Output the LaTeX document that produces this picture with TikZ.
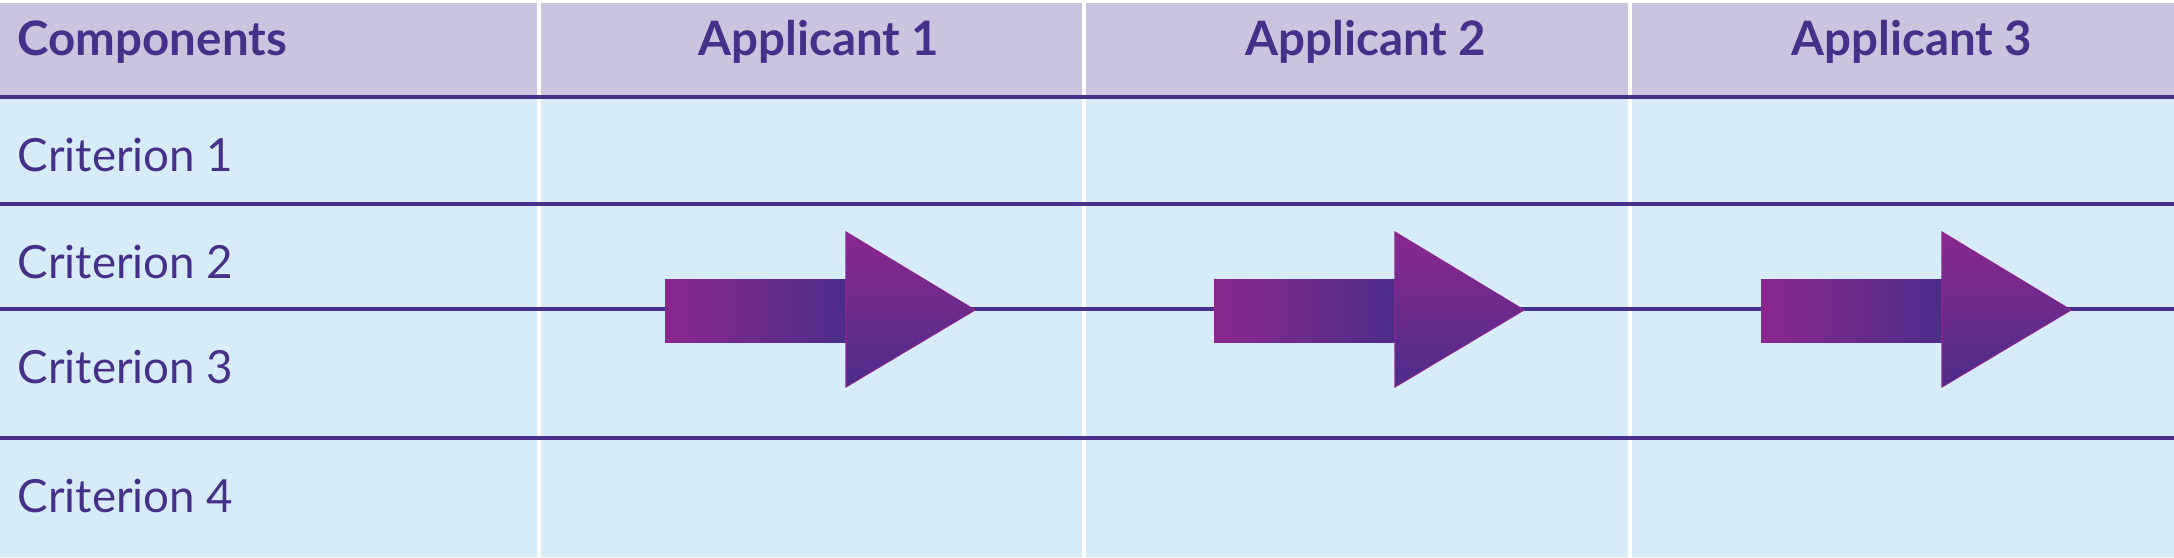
\documentclass[tikz,border=0pt]{standalone}
\usepackage{fontspec}
\setmainfont{Lato}
\usetikzlibrary{positioning}
\definecolor{headbg}{RGB}{202,196,223}
\definecolor{bodybg}{RGB}{214,236,249}
\definecolor{ink}{RGB}{70,48,138}
\definecolor{arrowA}{RGB}{139,39,143}
\definecolor{arrowB}{RGB}{76,45,138}

\begin{document}
\begin{tikzpicture}[x=0.01cm,y=-0.01cm,
    head/.style={text=ink,font=\fontsize{13.5}{15}\selectfont\bfseries,inner sep=0pt,anchor=base},
    crit/.style={text=ink,font=\fontsize{13}{15}\selectfont,inner sep=0pt,anchor=base west},
    rule/.style={draw=ink,line width=0.9pt}]
    \useasboundingbox (0,0) rectangle (2174,557);
    % background
    \fill[bodybg] (0,3) rectangle (2174,557);
    \fill[headbg] (0,3) rectangle (2174,97);
    \foreach \x in {539,1084,1630}
        \fill[white] (\x-2,3) rectangle (\x+2,557);
    \foreach \y in {97,204,309,438}
        \draw[rule] (0,\y) -- (2174,\y);
    % header
    \node[head,anchor=base west] (comp) at (17,55) {Components};
    \node[head] (app1) at (819,55) {Applicant 1};
    \node[head] (app2) at (1366,55) {Applicant 2};
    \node[head] (app3) at (1912,55) {Applicant 3};
    % rows
    \node[crit] (crit1) at (17,171) {Criterion 1};
    \node[crit] (crit2) at (17,278) {Criterion 2};
    \node[crit] (crit3) at (17,383) {Criterion 3};
    \node[crit] (crit4) at (17,512) {Criterion 4};
    % arrows
    \foreach \x in {665,1214,1761} {
        \shade[left color=arrowA,right color=arrowB] (\x,279) rectangle (\x+181,342);
        \shade[top color=arrowA,bottom color=arrowB,draw=arrowA,line width=0.3pt]
            (\x+181,232) -- (\x+310,310) -- (\x+181,387) -- cycle;
    }
\end{tikzpicture}
\end{document}
